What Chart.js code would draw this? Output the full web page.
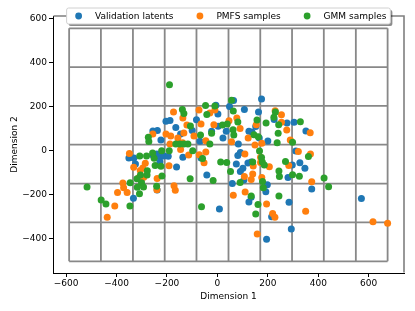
<!DOCTYPE html>
<html>
<head>
<meta charset="utf-8">
<script src="https://cdn.jsdelivr.net/npm/chart.js@4"></script>
<style>
  html, body { margin: 0; padding: 0; background: #fff; }
  canvas { display: block; }
</style>
</head>
<body>
<canvas id="chart" width="415" height="311" style="width:415px;height:311px"></canvas>
<script>
// values
const labels = ['Validation latents', 'PMFS samples', 'GMM samples'];
const colors = ['#1f77b4', '#ff7f0e', '#2ca02c'];

const valX = [175, 64, 48, 107, 163, -6, 225, 152, 276, 304, 351, 137, 125, 200, 166, 83, 35, 22, 2, 3, -23, -83, -204, -188, -165, -100, -256, -238, -224, -146, -69, 311, -351, -331, -325, -302, -333, -256, -240, -228, -212, -228, -195, -162, -137, -65, -42, 8, 59, 75, 81, 91, 91, 101, 105, 121, 134, 125, 134, 195, 192, 198, 215, 280, 284, 297, 293, 327, 347, 374, 571, -239];
const valY = [234, 227, 200, 187, 175, 206, 141, 109, 125, 129, 89, 85, 88, 44, 58, 30, 88, 58, 166, 111, 88, 140, 133, 137, 105, 91, 89, 91, 48, 76, 43, -1, -33, -33, -60, -133, -216, -19, -15, -29, -24, -50, -25, -74, -30, -33, -110, -264, -149, -60, -22, -8, -94, -80, -133, -56, -51, -232, -211, -401, -186, -154, -299, -121, -233, -65, -355, -55, -80, -173, -217, -178];

const pmfsX = [-174, -137, -121, -73, -30, -65, -14, -93, -133, -185, -157, -204, -256, -138, -188, -46, -349, -332, -286, -296, -306, -311, -292, -375, -372, -358, -396, -407, -437, -239, -240, -192, -172, -167, -114, -146, -72, -53, -46, 63, 109, 107, 110, 134, 140, 142, 158, 171, 171, 176, 195, 206, 219, 228, 283, 321, 350, 369, 374, 617, 675, 254, 229, 254, 275, 368, 122, 90, 77, 46, 56, 154, 176, 149, 289, -10];
const pmfsY = [175, 148, 116, 184, 171, 121, 118, 67, 80, 67, 58, 76, 76, 36, 30, 45, -13, -75, -57, -78, -90, -122, -120, -146, -168, -189, -189, -250, -302, -126, -177, -68, -159, -179, -19, 5, -18, -55, -6, -202, -15, -117, -187, -130, -106, -69, -377, -54, -30, -121, -241, -73, -284, -302, -67, -4, -274, -15, -141, -322, -329, 163, 181, 129, 94, 81, 58, 101, 148, 136, 41, 118, 34, 26, 48, 184];

const gmmX = [-190, -139, -133, -107, -47, -42, -67, -274, -272, -165, -149, -133, -117, -221, -308, -281, -251, -247, -224, -278, -279, -305, -319, -301, -293, -318, -346, -309, -347, -442, -461, -517, -220, -241, -108, -59, -98, -191, -257, -63, -17, 13, 37, 52, 90, 134, 140, 152, 161, 167, 175, 178, 186, 179, 182, 244, 246, 244, 270, 298, 325, 361, 423, 441, 56, 63, 81, 20, 39, 62, 65, -23, -10, 145, 157, 162, 193, 224, 230, 243, 241, 237, 298, 329, -30];
const gmmY = [299, 187, 168, 112, 205, 164, 71, 61, 42, 30, 30, 30, 30, 0, -24, -24, -34, -67, -70, -91, -110, -110, -127, -145, -164, -166, -145, -195, -251, -241, -223, -164, -115, -161, -127, -35, 0, 0, -10, -254, -135, -51, -53, -94, -144, -205, -51, -287, -244, -1, -31, -51, -65, -140, -168, -92, -117, -205, -49, -109, -116, -26, -124, -163, 228, 180, 130, 116, 121, 95, 71, 79, 202, 72, 139, 63, 125, 151, 175, 118, 79, 36, 38, 131, 30];

const xTicks = [-600, -400, -200, 0, 200, 400, 600];
const yTicks = [-400, -200, 0, 200, 400, 600];

// gray lattice drawn behind the points (data units)
const latticeX = [-588, -462, -335, -209, -83, 44, 170, 296, 422, 549, 675];
const latticeY = [-501, -325, -149, 27, 203, 378, 554];

const FONT = 'DejaVu Sans';

function toPoints(xs, ys) {
    return xs.map((x, i) => ({ x: x, y: ys[i] }));
}

function minusLabel(v) {
    return v < 0 ? '\u2212' + Math.abs(v) : String(v);
}

const latticePlugin = {
    id: 'lattice',
    beforeDatasetsDraw(chart) {
        const { ctx, scales: { x, y } } = chart;
        const x0 = x.getPixelForValue(latticeX[0]);
        const x1 = x.getPixelForValue(latticeX[latticeX.length - 1]);
        const y0 = y.getPixelForValue(latticeY[0]);
        const y1 = y.getPixelForValue(latticeY[latticeY.length - 1]);
        ctx.save();
        ctx.strokeStyle = '#888888';
        ctx.lineWidth = 1.8;
        ctx.beginPath();
        latticeX.forEach(v => {
            const px = x.getPixelForValue(v);
            ctx.moveTo(px, y0);
            ctx.lineTo(px, y1);
        });
        latticeY.forEach(v => {
            const py = y.getPixelForValue(v);
            ctx.moveTo(x0, py);
            ctx.lineTo(x1, py);
        });
        ctx.stroke();
        ctx.restore();
    }
};

const framePlugin = {
    id: 'frame',
    afterDraw(chart) {
        const { ctx, chartArea: a } = chart;
        ctx.save();
        ctx.strokeStyle = '#7f7f7f';
        ctx.lineWidth = 1.6;
        ctx.beginPath();
        ctx.moveTo(a.left + 0.5, a.top);
        ctx.lineTo(a.right, a.top);
        ctx.lineTo(a.right, a.bottom - 0.5);
        ctx.stroke();
        ctx.restore();
    }
};

// matplotlib style legend box at upper center, overlapping the top edge
const legendPlugin = {
    id: 'mplLegend',
    afterDraw(chart) {
        const { ctx, chartArea: a } = chart;
        const sets = chart.data.datasets;
        ctx.save();
        ctx.font = '9px "' + FONT + '"';
        const widths = sets.map(d => ctx.measureText(d.label).width);
        const textGap = 16.5, colGap = 26.5, padL = 12, padR = 4;
        let total = padL + padR;
        widths.forEach((w, i) => { total += textGap + w + (i < widths.length - 1 ? colGap : 0); });
        const left = (a.left + a.right) / 2 - total / 2;
        const top = 8, h = 16;

        function box(x, y, w, hh, r) {
            ctx.beginPath();
            ctx.moveTo(x + r, y);
            ctx.lineTo(x + w - r, y);
            ctx.arcTo(x + w, y, x + w, y + r, r);
            ctx.lineTo(x + w, y + hh - r);
            ctx.arcTo(x + w, y + hh, x + w - r, y + hh, r);
            ctx.lineTo(x + r, y + hh);
            ctx.arcTo(x, y + hh, x, y + hh - r, r);
            ctx.lineTo(x, y + r);
            ctx.arcTo(x, y, x + r, y, r);
            ctx.closePath();
        }
        box(left + 2, top + 2, total, h, 2);
        ctx.fillStyle = 'rgba(0,0,0,0.45)';
        ctx.fill();
        box(left, top, total, h, 2);
        ctx.fillStyle = '#fff';
        ctx.fill();
        ctx.strokeStyle = '#d0d0d0';
        ctx.lineWidth = 1;
        ctx.stroke();

        let cx = left + padL;
        const cy = top + h / 2;
        ctx.textBaseline = 'middle';
        ctx.textAlign = 'left';
        sets.forEach((d, i) => {
            ctx.beginPath();
            ctx.arc(cx, cy, 3.4, 0, Math.PI * 2);
            ctx.fillStyle = d.backgroundColor;
            ctx.fill();
            ctx.fillStyle = '#000';
            ctx.fillText(d.label, cx + textGap, cy + 0.5);
            cx += textGap + widths[i] + colGap;
        });
        ctx.restore();
    }
};

const tickFont = { family: FONT, size: 9 };

new Chart(document.getElementById('chart'), {
    type: 'scatter',
    data: {
        datasets: [
            { label: labels[0], data: toPoints(valX, valY), backgroundColor: colors[0], order: 3 },
            { label: labels[1], data: toPoints(pmfsX, pmfsY), backgroundColor: colors[1], order: 2 },
            { label: labels[2], data: toPoints(gmmX, gmmY), backgroundColor: colors[2], order: 1 }
        ]
    },
    options: {
        responsive: false,
        devicePixelRatio: 1,
        animation: false,
        elements: { point: { radius: 3.5, borderWidth: 0, hoverRadius: 3.5 } },
        layout: { padding: { top: 16, right: 11, left: 0, bottom: 0 } },
        plugins: {
            legend: { display: false },
            tooltip: { enabled: false }
        },
        scales: {
            x: {
                type: 'linear',
                min: -652,
                max: 740,
                afterBuildTicks: s => { s.ticks = xTicks.map(v => ({ value: v })); },
                afterFit: s => { s.height = 38; },
                grid: { drawOnChartArea: false, drawTicks: true, tickLength: 4, tickColor: '#000', tickWidth: 1 },
                border: { display: true, color: '#000', width: 1 },
                ticks: { color: '#000', font: tickFont, padding: 1, maxRotation: 0, autoSkip: false, callback: v => minusLabel(v) },
                title: { display: true, text: 'Dimension 1', color: '#000', font: tickFont, padding: { top: 0, bottom: 9 } }
            },
            y: {
                type: 'linear',
                min: -554,
                max: 610,
                afterBuildTicks: s => { s.ticks = yTicks.map(v => ({ value: v })); },
                afterFit: s => { s.width = 53; },
                grid: { drawOnChartArea: false, drawTicks: true, tickLength: 4, tickColor: '#000', tickWidth: 1 },
                border: { display: true, color: '#000', width: 1 },
                ticks: { color: '#000', font: tickFont, padding: 2, autoSkip: false, callback: v => minusLabel(v) },
                title: { display: true, text: 'Dimension 2', color: '#000', font: tickFont, padding: { top: 9, bottom: 0 } }
            }
        }
    },
    plugins: [latticePlugin, framePlugin, legendPlugin]
});
</script>
</body>
</html>
